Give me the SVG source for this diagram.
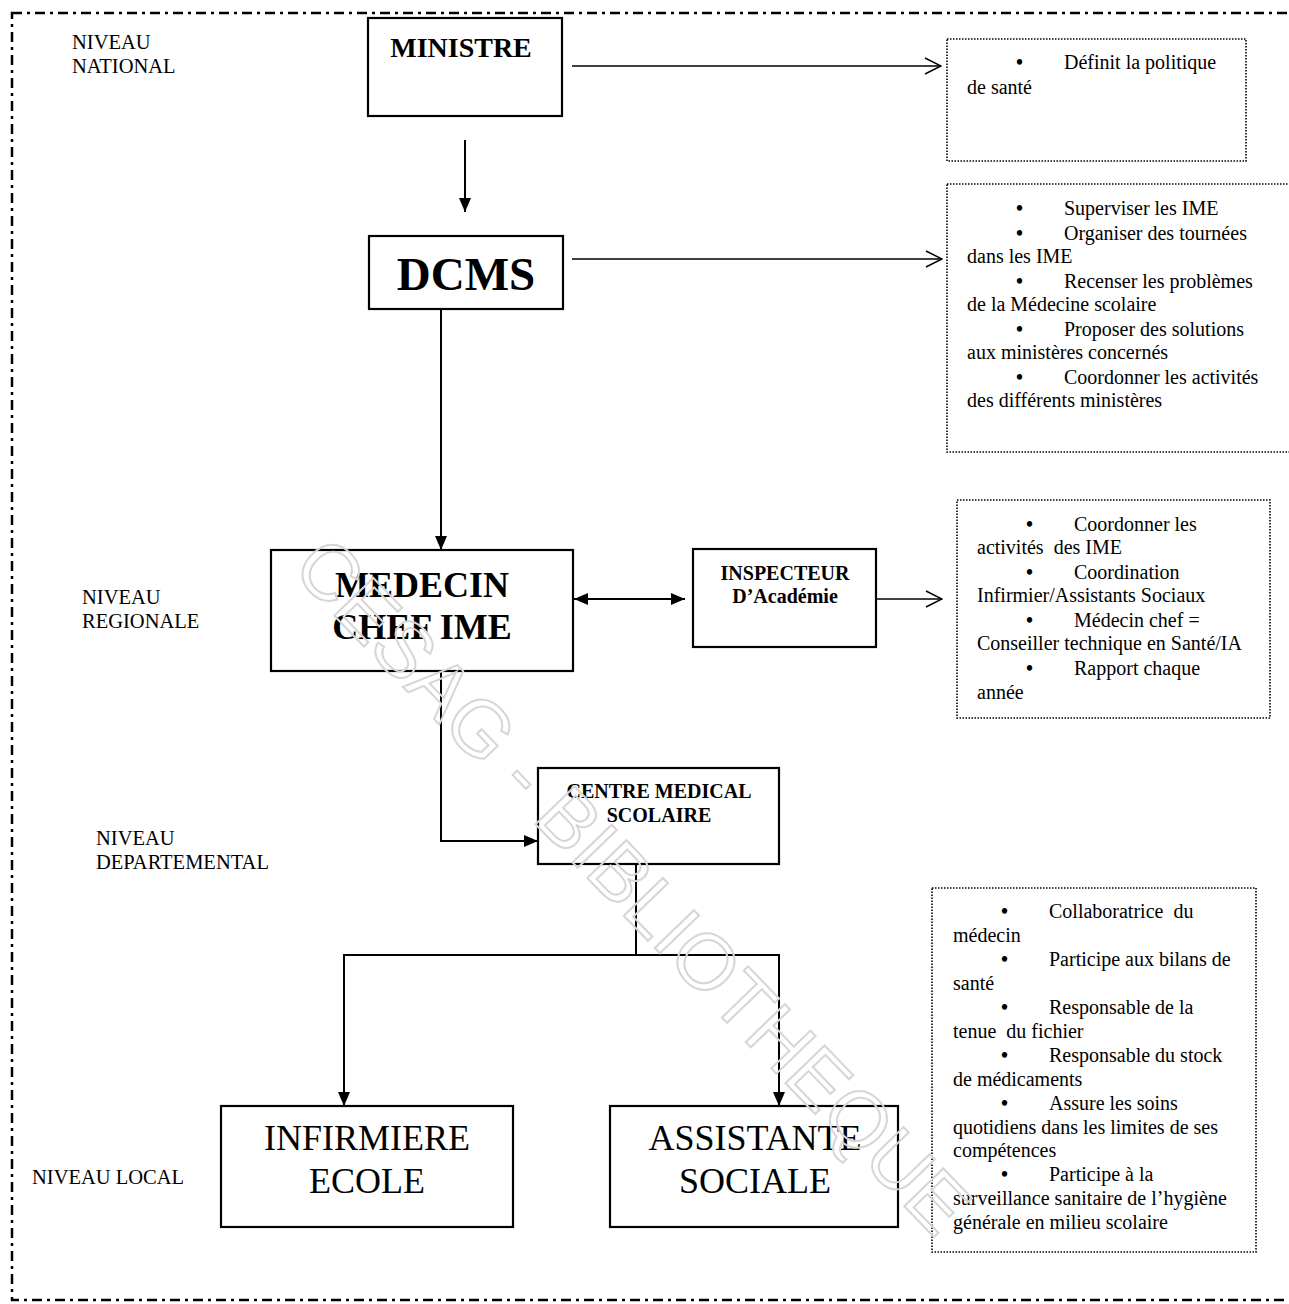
<svg xmlns="http://www.w3.org/2000/svg" width="1289" height="1304" viewBox="0 0 1289 1304">
<defs>
<marker id="fill" viewBox="0 0 14 12" refX="14" refY="6" markerWidth="14" markerHeight="12" markerUnits="userSpaceOnUse" orient="auto-start-reverse"><path d="M0,0 L14,6 L0,12 Z" fill="#000"/></marker>
<marker id="open" viewBox="0 0 18 18" refX="17" refY="9" markerWidth="18" markerHeight="18" markerUnits="userSpaceOnUse" orient="auto"><path d="M1,1 L17,9 L1,17" fill="none" stroke="#000" stroke-width="1.5"/></marker>
</defs>
<style>
.box{fill:#fff;stroke:#000;stroke-width:2.2}
.note{fill:none;stroke:#000;stroke-width:1.6;stroke-dasharray:1.5 1.5}
.t{font-family:"Liberation Serif","Times New Roman",serif;fill:#000}
.b{font-weight:bold}
.c{text-anchor:middle}
.s{font-size:20px}
.bu{font-size:20px;font-weight:bold}
.lvl{font-size:20.5px}
.ln{fill:none;stroke:#000;stroke-width:2}
.thin{fill:none;stroke:#000;stroke-width:1.4}
</style>
<rect width="1289" height="1304" fill="#fff"/>
<rect x="12" y="13" width="1292" height="1287" fill="none" stroke="#000" stroke-width="2.5" stroke-dasharray="10 5 3 5"/>
<g id="levels">
<text class="t lvl" x="72" y="49">NIVEAU</text><text class="t lvl" x="72" y="73">NATIONAL</text>
<text class="t lvl" x="82" y="604">NIVEAU</text><text class="t lvl" x="82" y="628">REGIONALE</text>
<text class="t lvl" x="96" y="845">NIVEAU</text><text class="t lvl" x="96" y="869">DEPARTEMENTAL</text>
<text class="t lvl" x="32" y="1184">NIVEAU LOCAL</text>
</g>
<g id="connectors">
<line class="thin" x1="572" y1="66" x2="941" y2="66" marker-end="url(#open)"/>
<line class="ln" x1="465" y1="140" x2="465" y2="212" marker-end="url(#fill)"/>
<line class="thin" x1="572" y1="259" x2="942" y2="259" marker-end="url(#open)"/>
<line class="ln" x1="441" y1="309" x2="441" y2="550" marker-end="url(#fill)"/>
<line class="ln" x1="574" y1="599" x2="685" y2="599" marker-start="url(#fill)" marker-end="url(#fill)"/>
<line class="thin" x1="876" y1="599" x2="942" y2="599" marker-end="url(#open)"/>
<polyline class="ln" points="441,671 441,841 538,841" marker-end="url(#fill)"/>
<line class="ln" x1="636" y1="864" x2="636" y2="955"/>
<polyline class="ln" points="344,1105 344,955 779,955 779,1105"/>
<line class="ln" x1="344" y1="1090" x2="344" y2="1106" marker-end="url(#fill)"/>
<line class="ln" x1="779" y1="1090" x2="779" y2="1106" marker-end="url(#fill)"/>
</g>
<g id="ministre"><rect class="box" x="368" y="18" width="194" height="98"/><text class="t b c" x="461" y="57" font-size="28">MINISTRE</text></g>
<g id="dcms"><rect class="box" x="369" y="236" width="194" height="73"/><text class="t b c" x="466" y="290" font-size="47">DCMS</text></g>
<g id="medecin"><rect class="box" x="271" y="550" width="302" height="121"/><text class="t b c" x="422" y="597" font-size="36">MEDECIN</text><text class="t b c" x="422" y="639" font-size="36">CHEF IME</text></g>
<g id="inspecteur"><rect class="box" x="693" y="549" width="183" height="98"/><text class="t b c" x="785" y="580" font-size="20">INSPECTEUR</text><text class="t b c" x="785" y="603" font-size="20">D’Académie</text></g>
<g id="centre"><rect class="box" x="538" y="768" width="241" height="96"/><text class="t b c" x="659" y="798" font-size="20">CENTRE MEDICAL</text><text class="t b c" x="659" y="822" font-size="20">SCOLAIRE</text></g>
<g id="infirmiere"><rect class="box" x="221" y="1106" width="292" height="121"/><text class="t c" x="367" y="1150" font-size="36">INFIRMIERE</text><text class="t c" x="367" y="1193" font-size="36">ECOLE</text></g>
<g id="assistante"><rect class="box" x="610" y="1106" width="288" height="121"/><text class="t c" x="755" y="1150" font-size="36">ASSISTANTE</text><text class="t c" x="755" y="1193" font-size="36">SOCIALE</text></g>
<g id="note-ministre"><rect class="note" x="947" y="39" width="299" height="122"/>
<text class="t bu" x="1016" y="69">•</text><text class="t s" x="1064" y="69">Définit la politique</text>
<text class="t s" x="967" y="94">de santé</text></g>
<g id="note-dcms"><rect class="note" x="947" y="184" width="345" height="268"/>
<text class="t bu" x="1016" y="215">•</text><text class="t s" x="1064" y="215">Superviser les IME</text>
<text class="t bu" x="1016" y="240">•</text><text class="t s" x="1064" y="240">Organiser des tournées</text>
<text class="t s" x="967" y="263">dans les IME</text>
<text class="t bu" x="1016" y="288">•</text><text class="t s" x="1064" y="288">Recenser les problèmes</text>
<text class="t s" x="967" y="311">de la Médecine scolaire</text>
<text class="t bu" x="1016" y="336">•</text><text class="t s" x="1064" y="336">Proposer des solutions</text>
<text class="t s" x="967" y="359">aux ministères concernés</text>
<text class="t bu" x="1016" y="384">•</text><text class="t s" x="1064" y="384">Coordonner les activités</text>
<text class="t s" x="967" y="407">des différents ministères</text></g>
<g id="note-medecin"><rect class="note" x="957" y="500" width="313" height="218"/>
<text class="t bu" x="1026" y="531">•</text><text class="t s" x="1074" y="531">Coordonner les</text>
<text class="t s" x="977" y="554" xml:space="preserve">activités  des IME</text>
<text class="t bu" x="1026" y="579">•</text><text class="t s" x="1074" y="579">Coordination</text>
<text class="t s" x="977" y="602">Infirmier/Assistants Sociaux</text>
<text class="t bu" x="1026" y="627">•</text><text class="t s" x="1074" y="627">Médecin chef =</text>
<text class="t s" x="977" y="650">Conseiller technique en Santé/IA</text>
<text class="t bu" x="1026" y="675">•</text><text class="t s" x="1074" y="675">Rapport chaque</text>
<text class="t s" x="977" y="699">année</text></g>
<g id="note-local"><rect class="note" x="932" y="888" width="324" height="364"/>
<text class="t bu" x="1001" y="918">•</text><text class="t s" x="1049" y="918" xml:space="preserve">Collaboratrice  du</text>
<text class="t s" x="953" y="942">médecin</text>
<text class="t bu" x="1001" y="966">•</text><text class="t s" x="1049" y="966">Participe aux bilans de</text>
<text class="t s" x="953" y="990">santé</text>
<text class="t bu" x="1001" y="1014">•</text><text class="t s" x="1049" y="1014">Responsable de la</text>
<text class="t s" x="953" y="1038" xml:space="preserve">tenue  du fichier</text>
<text class="t bu" x="1001" y="1062">•</text><text class="t s" x="1049" y="1062">Responsable du stock</text>
<text class="t s" x="953" y="1086">de médicaments</text>
<text class="t bu" x="1001" y="1110">•</text><text class="t s" x="1049" y="1110">Assure les soins</text>
<text class="t s" x="953" y="1134">quotidiens dans les limites de ses</text>
<text class="t s" x="953" y="1157">compétences</text>
<text class="t bu" x="1001" y="1181">•</text><text class="t s" x="1049" y="1181">Participe à la</text>
<text class="t s" x="953" y="1205">surveillance sanitaire de l’hygiène</text>
<text class="t s" x="953" y="1229">générale en milieu scolaire</text></g>
<g id="watermark"><text x="0" y="0" transform="translate(290,570) rotate(46)" style="font-family:'Liberation Sans',Arial,sans-serif;font-size:79px;fill:none;stroke:#d6d6d6;stroke-width:2">CESAG - BIBLIOTHEQUE</text></g>
</svg>
